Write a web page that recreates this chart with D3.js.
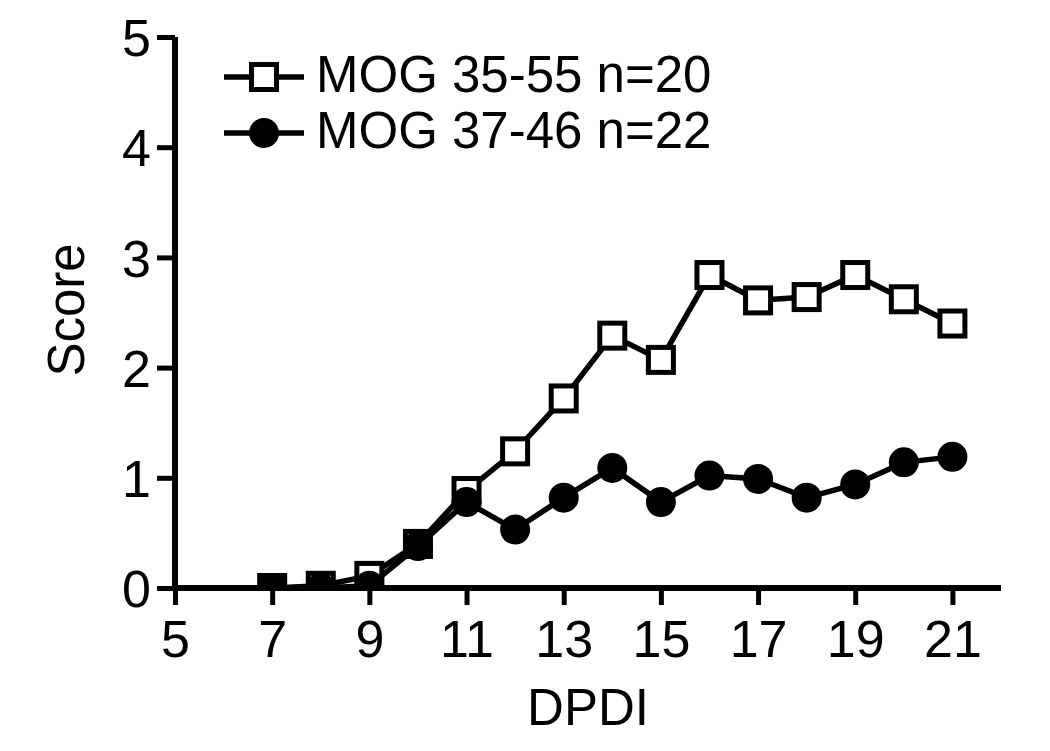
<!DOCTYPE html>
<html>
<head>
<meta charset="utf-8">
<script src="https://cdn.jsdelivr.net/npm/d3@7"></script>
<style>
  body { margin: 0; background: #fff; }
  text { font-family: "Liberation Sans", Arial, sans-serif; fill: #000; }
</style>
</head>
<body>
<script>
// data
var days = [7, 8, 9, 10, 11, 12, 13, 14, 15, 16, 17, 18, 19, 20, 21];
var mog3555 = [0, 0.02, 0.11, 0.4, 0.88, 1.24, 1.72, 2.29, 2.07, 2.84, 2.61, 2.64, 2.84, 2.62, 2.4];
var mog3746 = [0, 0, 0.02, 0.38, 0.78, 0.53, 0.82, 1.09, 0.78, 1.02, 0.99, 0.82, 0.94, 1.14, 1.19];
var seriesNames = ["MOG 35-55 n=20", "MOG 37-46 n=22"];
var xTicks = [5, 7, 9, 11, 13, 15, 17, 19, 21];
var yTicks = [0, 1, 2, 3, 4, 5];

var w = 1050, h = 751;

var svg = d3.select("body").append("svg")
    .attr("width", w)
    .attr("height", h);

var x = d3.scaleLinear().domain([5, 22]).range([175, 1001]);
var y = d3.scaleLinear().domain([0, 5]).range([588, 37]);

svg.append("defs").append("clipPath")
    .attr("id", "plotclip")
  .append("rect")
    .attr("x", 175).attr("y", 0)
    .attr("width", 860).attr("height", 585);

var line = d3.line()
    .x(function(d) { return x(d[0]); })
    .y(function(d) { return y(d[1]); });

var plot = svg.append("g").attr("clip-path", "url(#plotclip)");

var sq = d3.zip(days, mog3555);
var ci = d3.zip(days, mog3746);

// squares series
plot.append("path").datum(sq)
    .attr("d", line)
    .attr("fill", "none").attr("stroke", "#000").attr("stroke-width", 5.5);
plot.selectAll("rect.sq").data(sq).enter().append("rect")
    .attr("class", "sq")
    .attr("x", function(d) { return x(d[0]) - 12.5; })
    .attr("y", function(d) { return y(d[1]) - 12.5; })
    .attr("width", 25).attr("height", 25)
    .attr("fill", "#fff").attr("stroke", "#000").attr("stroke-width", 5);

// circles series
plot.append("path").datum(ci)
    .attr("d", line)
    .attr("fill", "none").attr("stroke", "#000").attr("stroke-width", 5.5);
plot.selectAll("circle.ci").data(ci).enter().append("circle")
    .attr("class", "ci")
    .attr("cx", function(d) { return x(d[0]); })
    .attr("cy", function(d) { return y(d[1]); })
    .attr("r", 15)
    .attr("fill", "#000");

// axes
var xAxis = svg.append("g")
    .attr("transform", "translate(0," + y(0) + ")")
    .call(d3.axisBottom(x).tickValues(xTicks).tickSize(17).tickPadding(15).tickSizeOuter(0));
var yAxis = svg.append("g")
    .attr("transform", "translate(" + x(5) + ",0)")
    .call(d3.axisLeft(y).tickValues(yTicks).tickFormat(d3.format("d")).tickSize(18).tickPadding(6).tickSizeOuter(0));

[xAxis, yAxis].forEach(function(a) {
    a.select(".domain").attr("stroke", "#000").attr("stroke-width", 6);
    a.selectAll(".tick line").attr("stroke", "#000").attr("stroke-width", 5);
    a.selectAll(".tick text")
        .style("font-size", "52px")
        .style("font-family", "'Liberation Sans', Arial, sans-serif")
        .attr("fill", "#000");
});
xAxis.select(".domain").attr("d", "M" + (x(5) - 3) + ",0H" + x(22));
yAxis.select(".domain").attr("d", "M0," + (y(0) + 3) + "V" + y(5));
yAxis.selectAll(".tick text").attr("dy", "0.36em");
xAxis.selectAll(".tick text").attr("dy", "0.72em");

// axis titles
svg.append("text")
    .attr("x", x(13.5)).attr("y", 725)
    .attr("text-anchor", "middle")
    .style("font-size", "51px")
    .text("DPDI");
svg.append("text")
    .attr("transform", "translate(84,310) rotate(-90)")
    .attr("text-anchor", "middle")
    .style("font-size", "51px")
    .text("Score");

// legend
var leg = svg.append("g");
var legY = [77, 133];
legY.forEach(function(ly, i) {
    leg.append("line")
        .attr("x1", 224).attr("x2", 304)
        .attr("y1", ly).attr("y2", ly)
        .attr("stroke", "#000").attr("stroke-width", 5.5);
    if (i === 0) {
        leg.append("rect")
            .attr("x", 251.5).attr("y", ly - 12.5)
            .attr("width", 25).attr("height", 25)
            .attr("fill", "#fff").attr("stroke", "#000").attr("stroke-width", 5);
    } else {
        leg.append("circle")
            .attr("cx", 264).attr("cy", ly).attr("r", 15)
            .attr("fill", "#000");
    }
    leg.append("text")
        .attr("x", 316).attr("y", ly + 15)
        .style("font-size", "51px")
        .text(seriesNames[i]);
});
</script>
</body>
</html>
